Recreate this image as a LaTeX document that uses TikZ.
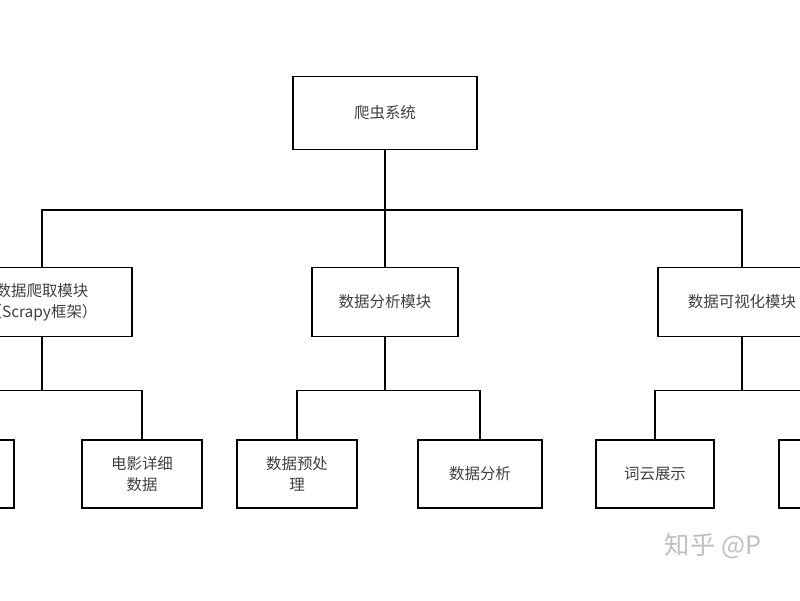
\documentclass[tikz,border=0pt]{standalone}
\usepackage{fontspec}
\setmainfont{Noto Sans CJK SC}
\usetikzlibrary{positioning}
\begin{document}
\begin{tikzpicture}[x=0.025cm, y=-0.025cm, font=\fontsize{11}{15}\selectfont]
	\tikzstyle{box} = [draw, thick, text=black!75, align=center, inner sep=2pt]
	\tikzstyle{link} = [thick]
	\useasboundingbox (0,0) rectangle (800,600);
	\clip (0,0) rectangle (800,600);
	% top
	\node[box, minimum width=4.6cm, minimum height=1.83cm] (root) at (385,113) {爬虫系统};
	% modules
	\node[box, minimum width=4.5cm, minimum height=1.73cm] (crawl) at (42,302) {数据爬取模块\\（Scrapy框架）};
	\node[box, minimum width=3.65cm, minimum height=1.73cm] (analy) at (385,302) {数据分析模块};
	\node[box, minimum width=4.2cm, minimum height=1.73cm] (visual) at (742,302) {数据可视化模块};
	% leaves
	\node[box, minimum width=3.0cm, minimum height=1.7cm] (list) at (-46,474) {};
	\node[box, minimum width=3.0cm, minimum height=1.7cm] (detail) at (142,474) {电影详细\\数据};
	\node[box, minimum width=3.0cm, minimum height=1.7cm] (prep) at (297,474) {数据预处\\理};
	\node[box, minimum width=3.1cm, minimum height=1.7cm] (stat) at (480,474) {数据分析};
	\node[box, minimum width=2.95cm, minimum height=1.7cm] (cloud) at (655,474) {词云展示};
	\node[box, minimum width=2.95cm, minimum height=1.7cm] (chart) at (838,474) {};
	% links
	\coordinate (bus) at (385,210);
	\draw[link] (root) -- (bus);
	\foreach \m in {crawl, analy, visual}
		\draw[link] (bus) -| (\m.north);
	\draw[link] (crawl.south) -- ++(0,53) -| (list.north);
	\draw[link] (crawl.south) -- ++(0,53) -| (detail.north);
	\draw[link] (analy.south) -- ++(0,53) -| (prep.north);
	\draw[link] (analy.south) -- ++(0,53) -| (stat.north);
	\draw[link] (visual.south) -- ++(0,53) -| (cloud.north);
	\draw[link] (visual.south) -- ++(0,53) -| (chart.north);
	% watermark
	\node[anchor=west, text=black!25, font=\fontsize{18}{20}\selectfont] (mark) at (660,546) {知乎 @P};
\end{tikzpicture}
\end{document}
